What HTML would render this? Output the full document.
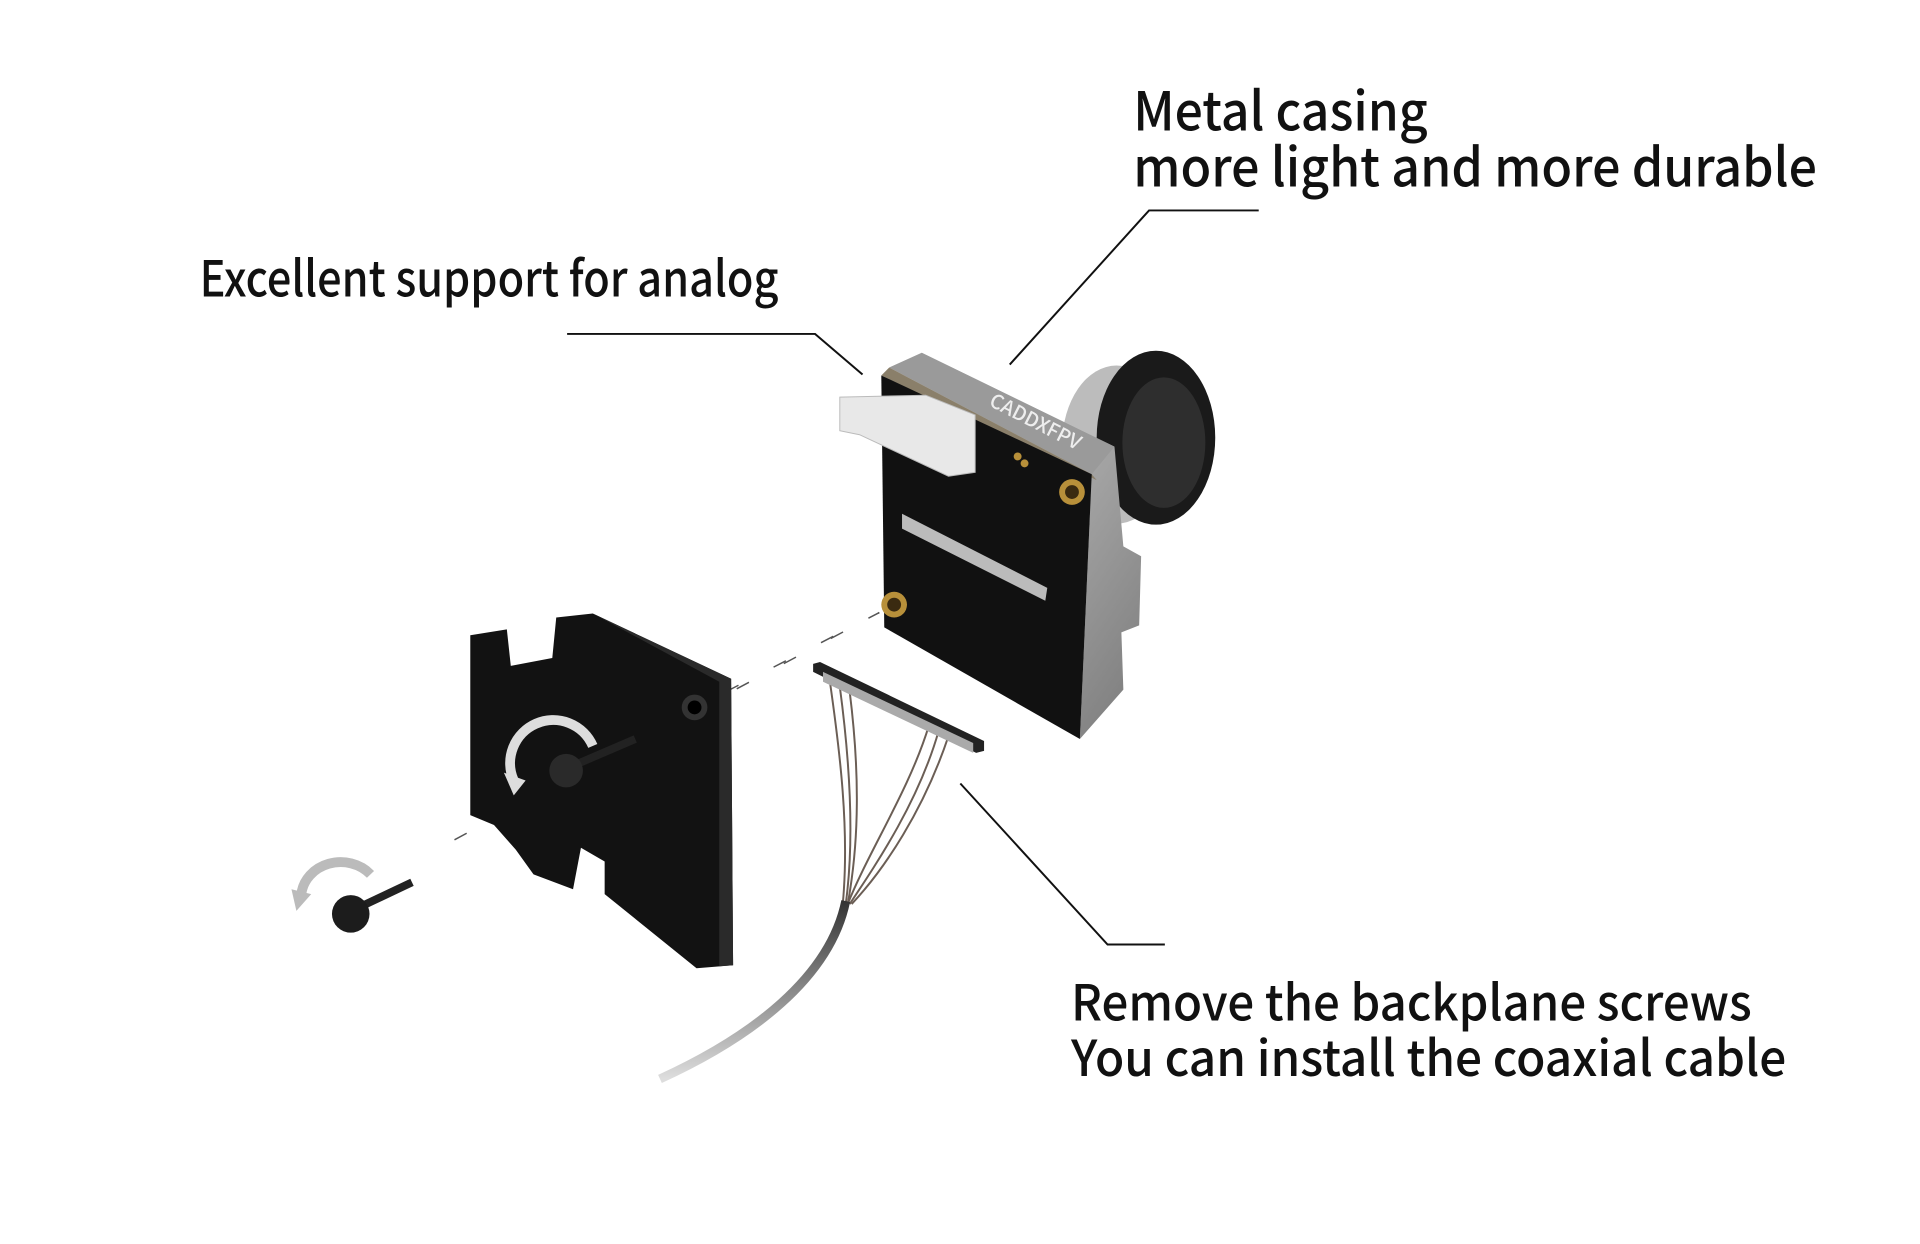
<!DOCTYPE html>
<html><head><meta charset="utf-8"><style>
html,body{margin:0;padding:0;background:#fff;}
svg{display:block}
text{font-family:"Noto Sans CJK SC","Liberation Sans",sans-serif;fill:#111;font-weight:500;}
</style></head><body>
<svg width="1920" height="1244" viewBox="0 0 1920 1244" xmlns="http://www.w3.org/2000/svg">
<defs>
<linearGradient id="silver" x1="0" y1="0" x2="1" y2="1"><stop offset="0" stop-color="#d8d8d8"/><stop offset="0.5" stop-color="#a9a9a9"/><stop offset="1" stop-color="#7a7a7a"/></linearGradient>
<linearGradient id="cable" x1="0" y1="0" x2="0" y2="1"><stop offset="0" stop-color="#333"/><stop offset="1" stop-color="#ddd"/></linearGradient>
</defs>
<g transform="scale(0.988)">
<text x="1147" y="132" font-size="54" textLength="298" lengthAdjust="spacingAndGlyphs">Metal casing</text>
<text x="1147" y="189" font-size="54" textLength="692" lengthAdjust="spacingAndGlyphs">more light and more durable</text>
<text x="202" y="300" font-size="50" textLength="586" lengthAdjust="spacingAndGlyphs">Excellent support for analog</text>
<text x="1084" y="1033" font-size="50" textLength="689" lengthAdjust="spacingAndGlyphs">Remove the backplane screws</text>
<text x="1084" y="1089" font-size="50" textLength="724" lengthAdjust="spacingAndGlyphs">You can install the coaxial cable</text>
<g stroke="#111" stroke-width="2" fill="none">
<polyline points="1274,213 1163,213 1022,369"/>
<polyline points="574,338 825,338 873,379"/>
<polyline points="972,793 1121,956 1179,956"/>
</g>
<g stroke="#555" stroke-width="1.5" stroke-dasharray="14,40">
<line x1="460" y1="850" x2="890" y2="620"/>
<line x1="735" y1="700" x2="890" y2="620"/>
</g>
<ellipse cx="1130" cy="450" rx="55" ry="80" fill="#bcbcbc"/>
<ellipse cx="1170" cy="443" rx="60" ry="88" fill="#1a1a1a"/>
<ellipse cx="1178" cy="448" rx="42" ry="66" fill="#2e2e2e"/>
<polygon points="900,372 933,357 1128,452 1137,553 1155,563 1153,633 1135,640 1137,698 1093,748 1105,480" fill="url(#silver)"/>
<polygon points="900,372 933,357 1128,452 1105,480" fill="#9a9a9a"/>
<polygon points="900,372 1105,480 1110,486 892,380" fill="#8a7f6a"/>
<text x="1000" y="410" font-size="20" style="fill:#eee" transform="rotate(27 1000 410)">CADDXFPV</text>
<polygon points="892,380 1105,480 1093,748 895,635" fill="#111"/>
<polygon points="913,520 1060,595 1058,608 913,535" fill="#bbb"/>
<circle cx="905" cy="612" r="13" fill="#b8903a"/><circle cx="905" cy="612" r="7" fill="#3a2a10"/>
<circle cx="1085" cy="498" r="13" fill="#b8903a"/><circle cx="1085" cy="498" r="7" fill="#3a2a10"/>
<circle cx="1030" cy="462" r="4" fill="#b8903a"/><circle cx="1037" cy="469" r="4" fill="#b8903a"/>
<polygon points="850,402 937,400 987,420 987,478 960,482 870,440 850,436" fill="#e8e8e8" stroke="#bbb"/>
<g stroke="#6b5e55" stroke-width="2" fill="none">
<path d="M840,690 C850,760 860,840 853,915"/><path d="M850,695 C860,770 865,850 856,915"/>
<path d="M860,700 C870,780 870,850 858,915"/><path d="M940,735 C920,800 880,860 858,915"/>
<path d="M950,740 C930,810 890,870 860,915"/><path d="M960,745 C935,820 895,880 862,915"/>
</g>
<polygon points="823,672 830,670 996,750 996,760 988,762 823,680" fill="#222"/>
<polygon points="833,680 985,752 985,762 833,690" fill="#aaa"/>
<path d="M856,912 C840,990 760,1050 668,1092" stroke="url(#cable)" stroke-width="9" fill="none"/>
<polygon points="476,643 513,637 517,674 559,666 563,625 600,621 740,687 742,977 705,980 612,905 612,872 588,858 580,900 540,885 522,860 500,835 476,825" fill="#121212"/>
<polygon points="600,621 740,687 742,977 728,978 728,690" fill="#2a2a2a"/>
<circle cx="703" cy="716" r="13" fill="#333"/><circle cx="703" cy="716" r="7" fill="#000"/>
<line x1="580" y1="775" x2="643" y2="748" stroke="#222" stroke-width="8"/>
<circle cx="573" cy="780" r="17" fill="#2a2a2a"/>
<path d="M520,790 A38,38 0 1 1 600,755" stroke="#ddd" stroke-width="10" fill="none"/>
<polygon points="510,782 532,790 520,805" fill="#ddd"/>
<line x1="360" y1="920" x2="417" y2="893" stroke="#222" stroke-width="8"/>
<circle cx="355" cy="925" r="19" fill="#1c1c1c"/>
<path d="M305,905 A40,36 0 0 1 375,885" stroke="#bbb" stroke-width="10" fill="none"/>
<polygon points="295,900 315,905 300,922" fill="#bbb"/>
</g>
</svg>
</body></html>
